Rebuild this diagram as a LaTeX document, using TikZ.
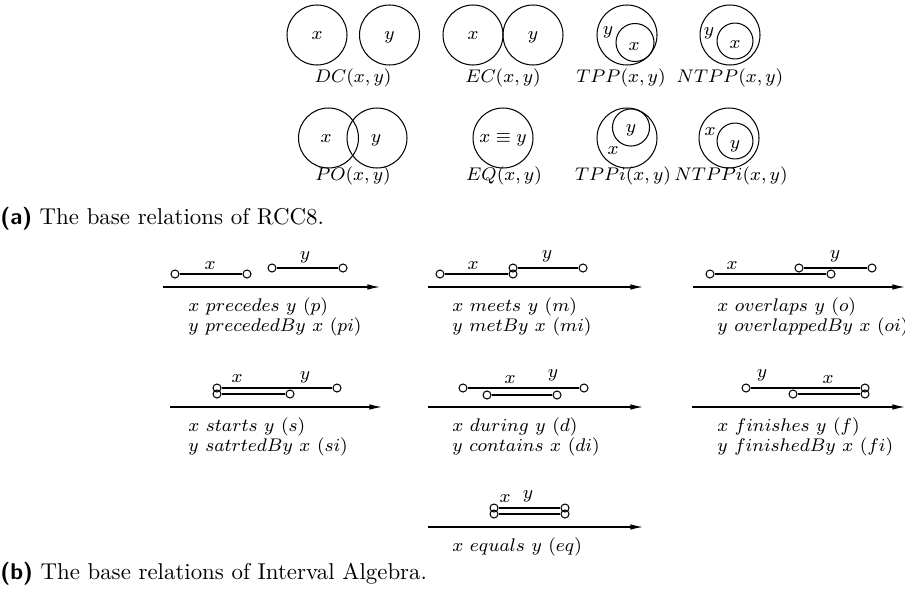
\documentclass[tikz,border=0pt]{standalone}
\usetikzlibrary{arrows.meta}
\newcommand\fsz{\fontsize{8.1}{9.7}\selectfont}
\newcommand\IAaxis[4]{%
  \coordinate (#1s) at (#2,#4); \coordinate (#1e) at (#3,#4);
  \draw[timeaxis] (#1s) -- (#1e);}
\newcommand\IAint[4]{%
  \node[ep] (#1a) at (#2,#4) {}; \node[ep] (#1b) at (#3,#4) {};
  \draw[ival] (#1a) -- (#1b);}
\begin{document}
\begin{tikzpicture}[x=0.4367pt,y=-0.4367pt,
  region/.style={draw, circle, line width=0.45pt, inner sep=0pt, minimum size=#1},
  lbl/.style={font=\fsz, inner sep=0pt, anchor=mid},
  relname/.style={font=\fsz, inner sep=0pt},
  ep/.style={draw, circle, inner sep=0pt, minimum size=3.5pt, line width=0.45pt},
  ival/.style={line width=0.45pt},
  timeaxis/.style={line width=0.5pt, -{Latex[length=5.5pt,width=2.4pt]}},
  desc/.style={font=\fsz, inner sep=0pt, anchor=mid west},
  figcap/.style={inner sep=0pt, anchor=mid west, font=\normalsize}]
\useasboundingbox (0,0) rectangle (905,603);

% ---------- RCC8 row 1 ----------
\node[region=26.2pt] (dcx) at (317,35) {};
\node[region=26.2pt] (dcy) at (389.5,35) {};
\node[lbl] (dcxl) at (317,35) {$x$};
\node[lbl] (dcyl) at (389.5,35) {$y$};
\node[relname] (dccap) at (353,78) {$DC(x,y)$};

\node[region=26.2pt] (ecx) at (473,35) {};
\node[region=26.2pt] (ecy) at (533,35) {};
\node[lbl] (ecxl) at (473,35) {$x$};
\node[lbl] (ecyl) at (533,35) {$y$};
\node[relname] (eccap) at (503,78) {$EC(x,y)$};

\node[region=26.2pt] (tppy) at (627,35) {};
\node[region=16.6pt] (tppx) at (635,42.5) {};
\node[lbl] (tppyl) at (608,30) {$y$};
\node[lbl] (tppxl) at (634,46) {$x$};
\node[relname] (tppcap) at (621,78) {$TPP(x,y)$};

\node[region=26.2pt] (ntppy) at (730,35) {};
\node[region=15.7pt] (ntppx) at (735,41) {};
\node[lbl] (ntppyl) at (709,31) {$y$};
\node[lbl] (ntppxl) at (735,44) {$x$};
\node[relname] (ntppcap) at (730,78) {$NTPP(x,y)$};

% ---------- RCC8 row 2 ----------
\node[region=26.2pt] (pox) at (328.5,138) {};
\node[region=26.2pt] (poy) at (377,138) {};
\node[lbl] (poxl) at (326,138) {$x$};
\node[lbl] (poyl) at (376,138) {$y$};
\node[relname] (pocap) at (353,176) {$PO(x,y)$};

\node[region=26.2pt] (eqxy) at (503,138) {};
\node[lbl] (eqxyl) at (503,138) {$x\equiv y$};
\node[relname] (eqcap) at (504,176) {$EQ(x,y)$};

\node[region=26.2pt] (tppix) at (627,138) {};
\node[region=16.2pt] (tppiy) at (631,127.5) {};
\node[lbl] (tppiyl) at (631,128) {$y$};
\node[lbl] (tppixl) at (613,150) {$x$};
\node[relname] (tppicap) at (623,176) {$TPPi(x,y)$};

\node[region=26.2pt] (ntppix) at (729,138) {};
\node[region=15.7pt] (ntppiy) at (735,141) {};
\node[lbl] (ntppixl) at (710,131) {$x$};
\node[lbl] (ntppiyl) at (735,144) {$y$};
\node[relname] (ntppicap) at (731,176) {$NTPPi(x,y)$};

\node[figcap] (capa) at (0,220) {\textsf{\textbf{(a)}} The base relations of RCC8.};

% ---------- Interval Algebra row 1 ----------
\IAaxis{ax11}{163}{380}{287}
\IAint{p1x}{175}{247}{274}
\IAint{p1y}{272}{343}{268}
\node[lbl] (p1xl) at (210,265) {$x$};
\node[lbl] (p1yl) at (305,255) {$y$};
\node[desc] (p1d1) at (188,307) {$x$ $precedes$ $y$ $(p)$};
\node[desc] (p1d2) at (188,327) {$y$ $precededBy$ $x$ $(pi)$};

\IAaxis{ax12}{428}{643}{287}
\IAint{m1x}{440}{513}{274}
\IAint{m1y}{513}{583}{268}
\node[lbl] (m1xl) at (473,265) {$x$};
\node[lbl] (m1yl) at (547,254) {$y$};
\node[desc] (m1d1) at (452,307) {$x$ $meets$ $y$ $(m)$};
\node[desc] (m1d2) at (452,327) {$y$ $metBy$ $x$ $(mi)$};

\IAaxis{ax13}{693}{905}{287}
\IAint{o1x}{710}{831}{274}
\IAint{o1y}{799}{872}{268}
\node[lbl] (o1xl) at (732,265) {$x$};
\node[lbl] (o1yl) at (835,254) {$y$};
\node[desc] (o1d1) at (717,307) {$x$ $overlaps$ $y$ $(o)$};
\node[desc] (o1d2) at (717,327) {$y$ $overlappedBy$ $x$ $(oi)$};

% ---------- Interval Algebra row 2 ----------
\IAaxis{ax21}{170}{382}{407}
\IAint{s1y}{217}{337}{388}
\IAint{s1x}{217}{290}{394}
\node[lbl] (s1xl) at (237,378) {$x$};
\node[lbl] (s1yl) at (305,375) {$y$};
\node[desc] (s1d1) at (188,427) {$x$ $starts$ $y$ $(s)$};
\node[desc] (s1d2) at (188,447) {$y$ $satrtedBy$ $x$ $(si)$};

\IAaxis{ax22}{428}{643}{407}
\IAint{d1y}{463}{584}{388}
\IAint{d1x}{487}{557}{395}
\node[lbl] (d1xl) at (510,379) {$x$};
\node[lbl] (d1yl) at (553,373) {$y$};
\node[desc] (d1d1) at (452,427) {$x$ $during$ $y$ $(d)$};
\node[desc] (d1d2) at (452,447) {$y$ $contains$ $x$ $(di)$};

\IAaxis{ax23}{692}{905}{407}
\IAint{f1y}{746}{865}{388}
\IAint{f1x}{793}{865}{394}
\node[lbl] (f1yl) at (762,373) {$y$};
\node[lbl] (f1xl) at (828,379) {$x$};
\node[desc] (f1d1) at (717,427) {$x$ $finishes$ $y$ $(f)$};
\node[desc] (f1d2) at (717,447) {$y$ $finishedBy$ $x$ $(fi)$};

% ---------- Interval Algebra row 3 ----------
\IAaxis{ax31}{428}{643}{527}
\IAint{e1y}{494}{565}{508}
\IAint{e1x}{494}{565}{514}
\node[lbl] (e1xl) at (505,498) {$x$};
\node[lbl] (e1yl) at (528,494) {$y$};
\node[desc] (e1d1) at (452,547) {$x$ $equals$ $y$ $(eq)$};

\node[figcap] (capb) at (0,575) {\textsf{\textbf{(b)}} The base relations of Interval Algebra.};
\end{tikzpicture}
\end{document}
